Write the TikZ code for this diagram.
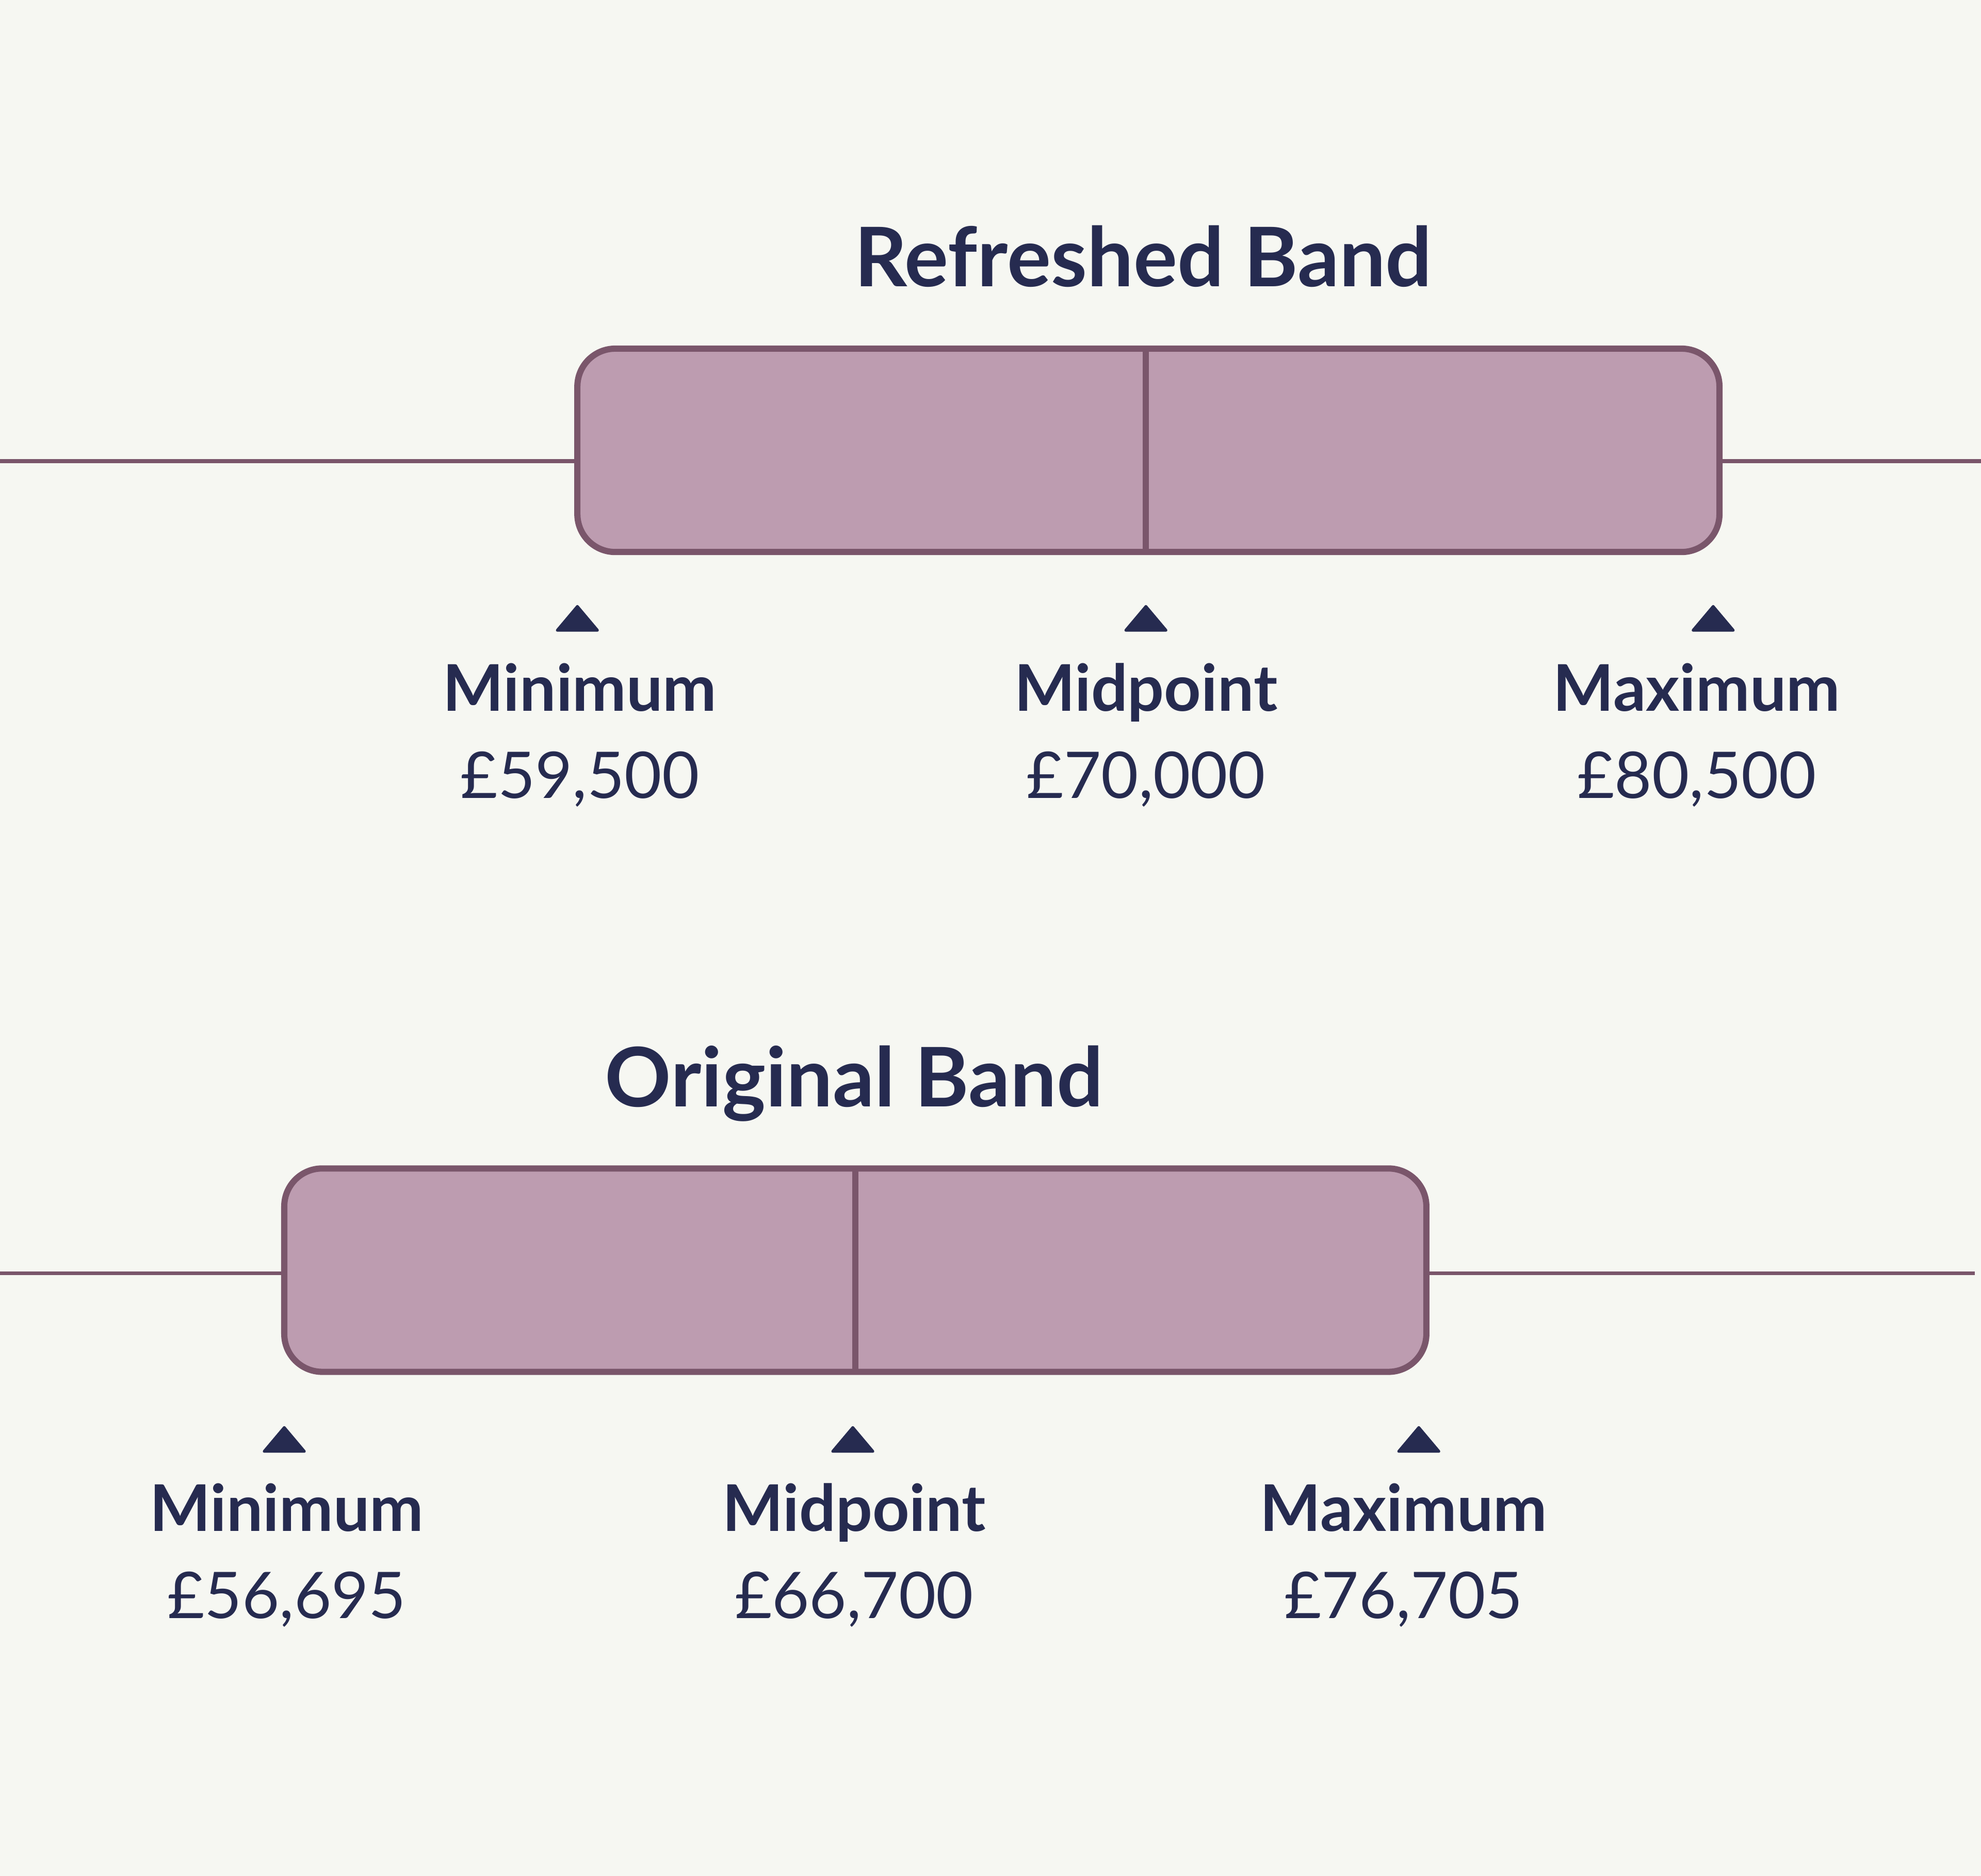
\documentclass[tikz,border=0pt]{standalone}
\usepackage{fontspec}
\setmainfont{Lato}
\usetikzlibrary{positioning}
\definecolor{bg}{HTML}{F6F7F2}
\definecolor{navy}{HTML}{262B50}
\definecolor{bandfill}{HTML}{BD9CB0}
\definecolor{bandline}{HTML}{7A566B}
\begin{document}
\begin{tikzpicture}[x=0.01cm,y=-0.01cm]
   \tikzstyle{band}=[draw=bandline, fill=bandfill, line width=1.4pt, rounded corners=0.3cm]
   \tikzstyle{axis}=[draw=bandline, line width=0.9pt]
   \tikzstyle{tick}=[fill=navy, draw=navy, line width=0.6pt, line join=round]
   \tikzstyle{title}=[text=navy, anchor=base, font=\fontsize{18.5}{20}\selectfont\bfseries]
   \tikzstyle{lbl}=[text=navy, anchor=base, font=\fontsize{14.5}{16}\selectfont\bfseries]
   \tikzstyle{val}=[text=navy, anchor=base, font=\fontsize{14.5}{16}\selectfont]

\useasboundingbox (0,0) rectangle (1568,1485);
\fill[bg] (0,0) rectangle (1568,1485);

% refreshed band
\node[title] (t1) at (905,227) {Refreshed Band};
\coordinate (l1a) at (0,365); \coordinate (l1b) at (457,365);
\coordinate (r1a) at (1361,365); \coordinate (r1b) at (1568,365);
\draw[axis] (l1a) -- (l1b); \draw[axis] (r1a) -- (r1b);
\draw[band] (457,276) rectangle (1361,437);
\coordinate (m1a) at (907,276); \coordinate (m1b) at (907,437);
\draw[bandline, line width=1.4pt] (m1a) -- (m1b);
\foreach \x/\tx/\n/\v in {457/459/Minimum/{59,500}, 907/907/Midpoint/{70,000}, 1356/1343/Maximum/{80,500}}{
   \draw[tick] (\x-16,499) -- (\x,480) -- (\x+16,499) -- cycle;
   \node[lbl] at (\tx,563) {\n};
   \node[val] at (\tx,632) {£\v};
}

% original band
\node[title] (t2) at (676,876) {Original Band};
\coordinate (l2a) at (0,1008); \coordinate (l2b) at (225,1008);
\coordinate (r2a) at (1129,1008); \coordinate (r2b) at (1563,1008);
\draw[axis] (l2a) -- (l2b); \draw[axis] (r2a) -- (r2b);
\draw[band] (225,925) rectangle (1129,1086);
\coordinate (m2a) at (677,925); \coordinate (m2b) at (677,1086);
\draw[bandline, line width=1.4pt] (m2a) -- (m2b);
\foreach \x/\tx/\n/\v in {225/227/Minimum/{56,695}, 675/676/Midpoint/{66,700}, 1123/1111/Maximum/{76,705}}{
   \draw[tick] (\x-16,1149) -- (\x,1130) -- (\x+16,1149) -- cycle;
   \node[lbl] at (\tx,1212) {\n};
   \node[val] at (\tx,1281) {£\v};
}
\end{tikzpicture}
\end{document}
